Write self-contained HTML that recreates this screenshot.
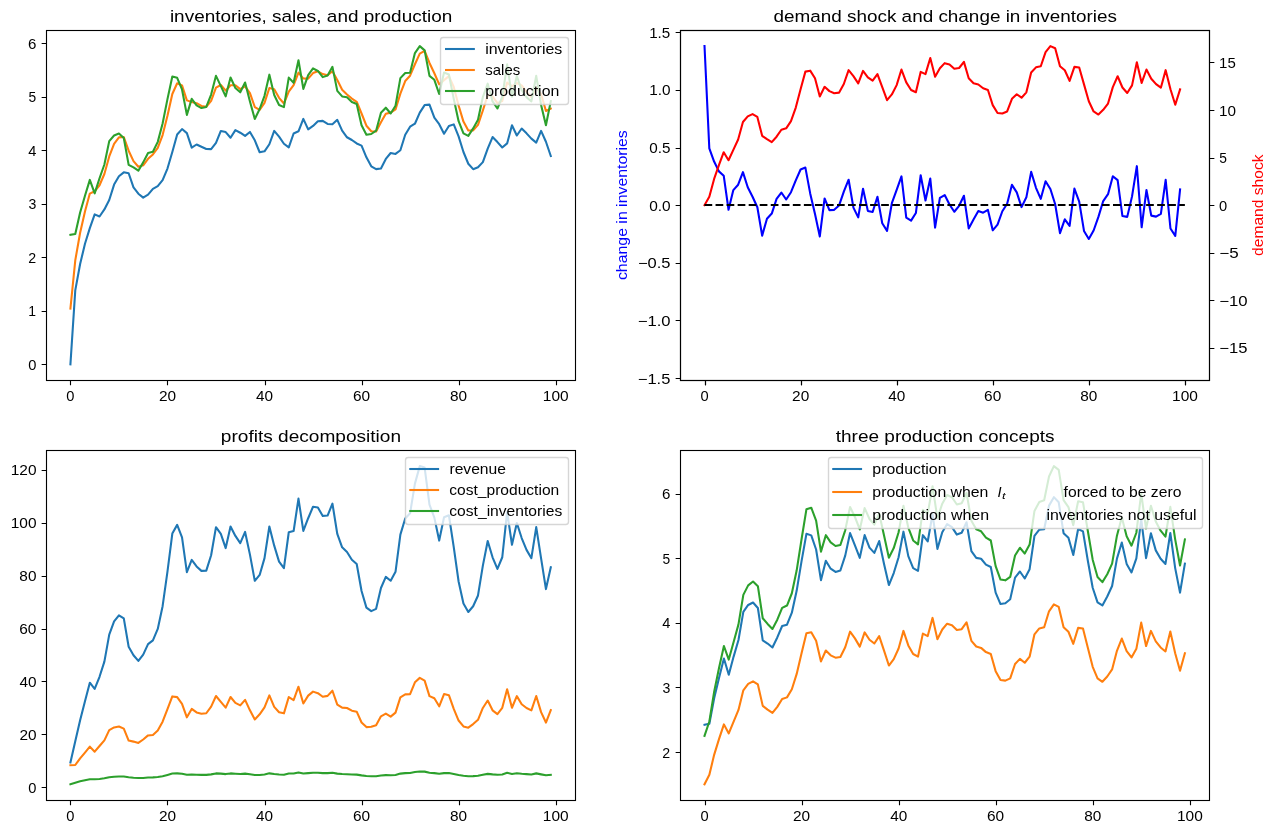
<!DOCTYPE html>
<html><head><meta charset="utf-8"><title>Production smoothing via inventories</title>
<style>html,body{margin:0;padding:0;background:#fff;}svg{display:block;will-change:transform;}text{font-family:"Liberation Sans",sans-serif;}.t{will-change:transform;}</style>
</head><body>
<svg width="1277" height="834" viewBox="0 0 1277 834">
<defs><clipPath id="c0"><rect x="46.4" y="30.2" width="528.41" height="350"/></clipPath><clipPath id="c1"><rect x="680.49" y="30.2" width="528.41" height="350"/></clipPath><clipPath id="c2"><rect x="46.4" y="450.2" width="528.41" height="350"/></clipPath><clipPath id="c3"><rect x="680.49" y="450.2" width="528.41" height="350"/></clipPath></defs>
<rect width="1277" height="834" fill="#fff"/>
<path d="M70.42 364.29 L75.27 290.43 L80.12 264.03 L84.98 243.78 L89.83 228.07 L94.68 214.37 L99.53 216.47 L104.38 209.45 L109.24 199.94 L114.09 184.58 L118.94 176.27 L123.79 172.33 L128.65 173.27 L133.5 187.4 L138.35 193.7 L143.2 197.58 L148.05 194.67 L152.91 188.79 L157.76 186.13 L162.61 180.11 L167.46 168.57 L172.32 152 L177.17 134.54 L182.02 129.07 L186.87 133.15 L191.72 147.64 L196.58 144.5 L201.43 146.77 L206.28 148.93 L211.13 149.1 L215.99 142.81 L220.84 130.98 L225.69 132.09 L230.54 137.76 L235.39 130.09 L240.25 132.73 L245.1 135.89 L249.95 131.95 L254.8 140.35 L259.66 152.26 L264.51 151.34 L269.36 144.25 L274.21 130.89 L279.06 136.64 L283.92 143.79 L288.77 147.42 L293.62 133.49 L298.47 131.29 L303.33 118.91 L308.18 129.32 L313.03 125.9 L317.88 121.2 L322.74 120.89 L327.59 123.94 L332.44 124.22 L337.29 119.83 L342.14 130.62 L347 137.27 L351.85 139.99 L356.7 143.45 L361.55 145.65 L366.41 157.33 L371.26 166.31 L376.11 169.12 L380.96 168.42 L385.81 158.96 L390.67 153.03 L395.52 153.92 L400.37 150.25 L405.22 134.76 L410.08 126.69 L414.93 123.71 L419.78 112.59 L424.63 105.08 L429.48 104.64 L434.34 117.62 L439.19 124.16 L444.04 133.76 L448.89 126.07 L453.75 124.38 L458.6 136.33 L463.45 152 L468.3 163.74 L473.15 169.18 L478.01 167.25 L482.86 162.13 L487.71 148.67 L492.56 137.04 L497.42 142.09 L502.27 147.51 L507.12 143.42 L511.97 125.29 L516.82 135.53 L521.68 128.5 L526.53 133.34 L531.38 138.64 L536.23 142.66 L541.09 130.9 L545.94 141.73 L550.79 155.99" fill="none" stroke="#1f77b4" stroke-width="2.08" stroke-linejoin="round" stroke-linecap="square" clip-path="url(#c0)"/>
<path d="M70.42 308.68 L75.27 260.31 L80.12 232.79 L84.98 211.51 L89.83 193.57 L94.68 191.22 L99.53 185.25 L104.38 174.02 L109.24 156.48 L114.09 143.76 L118.94 137.39 L123.79 137.03 L128.65 150.69 L133.5 161.13 L138.35 166.8 L143.2 165.28 L148.05 158.79 L152.91 154.42 L157.76 147.88 L162.61 135.05 L167.46 115.72 L172.32 93.96 L177.17 83.25 L182.02 85.37 L186.87 100.38 L191.72 102 L196.58 103.15 L201.43 105.91 L206.28 106.76 L211.13 100.86 L215.99 87.68 L220.84 84.99 L225.69 90.7 L230.54 85.24 L235.39 85.3 L240.25 89.13 L245.1 86.4 L249.95 93.1 L254.8 107.03 L259.66 109.93 L264.51 102.94 L269.36 88.05 L274.21 89.26 L279.06 97.84 L283.92 103.54 L288.77 91.52 L293.62 85.02 L298.47 72.62 L303.33 78.54 L308.18 78.6 L313.03 73.07 L317.88 71.29 L322.74 74.08 L327.59 75.31 L332.44 71.25 L337.29 80.06 L342.14 89.76 L347 94.44 L351.85 98.58 L356.7 101.76 L361.55 113.51 L366.41 125.7 L371.26 131.2 L376.11 131.43 L380.96 122.26 L385.81 113.65 L390.67 112.61 L395.52 109.43 L400.37 93.61 L405.22 81.07 L410.08 75.7 L414.93 64.23 L419.78 53.61 L424.63 50.81 L429.48 62.94 L434.34 73.25 L439.19 84.4 L444.04 80.16 L448.89 76.13 L453.75 86.9 L458.6 105.5 L463.45 121.58 L468.3 130.44 L473.15 130.34 L478.01 124.88 L482.86 110.53 L487.71 95.27 L492.56 96.36 L497.42 103.09 L502.27 100.93 L507.12 82.49 L511.97 86.43 L516.82 83.03 L521.68 85.38 L526.53 91.92 L531.38 97.41 L536.23 87.56 L541.09 94.08 L545.94 111 L550.79 108.54" fill="none" stroke="#ff7f0e" stroke-width="2.08" stroke-linejoin="round" stroke-linecap="square" clip-path="url(#c0)"/>
<path d="M70.42 234.82 L75.27 233.91 L80.12 212.54 L84.98 195.8 L89.83 179.87 L94.68 193.33 L99.53 178.23 L104.38 164.51 L109.24 141.13 L114.09 135.45 L118.94 133.45 L123.79 137.98 L128.65 164.82 L133.5 167.43 L138.35 170.68 L143.2 162.37 L148.05 152.91 L152.91 151.76 L157.76 141.86 L162.61 123.51 L167.46 99.15 L172.32 76.5 L177.17 77.78 L182.02 89.45 L186.87 114.87 L191.72 98.85 L196.58 105.43 L201.43 108.07 L206.28 106.93 L211.13 94.56 L215.99 75.85 L220.84 86.1 L225.69 96.36 L230.54 77.56 L235.39 87.94 L240.25 92.29 L245.1 82.46 L249.95 101.5 L254.8 118.94 L259.66 109 L264.51 95.85 L269.36 74.68 L274.21 95.01 L279.06 104.99 L283.92 107.16 L288.77 77.6 L293.62 82.82 L298.47 60.23 L303.33 88.95 L308.18 75.18 L313.03 68.37 L317.88 70.98 L322.74 77.13 L327.59 75.58 L332.44 66.86 L337.29 90.85 L342.14 96.41 L347 97.17 L351.85 102.04 L356.7 103.96 L361.55 125.19 L366.41 134.68 L371.26 134 L376.11 130.73 L380.96 112.8 L385.81 107.72 L390.67 113.5 L395.52 105.77 L400.37 78.12 L405.22 73 L410.08 72.73 L414.93 53.11 L419.78 46.11 L424.63 50.36 L429.48 75.92 L434.34 79.79 L439.19 93.99 L444.04 72.47 L448.89 74.45 L453.75 98.84 L458.6 121.17 L463.45 133.32 L468.3 135.88 L473.15 128.42 L478.01 119.76 L482.86 97.07 L487.71 83.65 L492.56 101.4 L497.42 108.51 L502.27 96.84 L507.12 64.37 L511.97 96.67 L516.82 76 L521.68 90.22 L526.53 97.22 L531.38 101.43 L536.23 75.81 L541.09 104.91 L545.94 125.25 L550.79 101.17" fill="none" stroke="#2ca02c" stroke-width="2.08" stroke-linejoin="round" stroke-linecap="square" clip-path="url(#c0)"/>
<rect x="46.5" y="30.5" width="529.0" height="350.0" fill="none" stroke="#000" stroke-width="1.11" stroke-linejoin="miter"/>
<path d="M70.5 380.5v4.86 M167.5 380.5v4.86 M265.5 380.5v4.86 M362.5 380.5v4.86 M459.5 380.5v4.86 M556.5 380.5v4.86 M46.5 364.5h-4.86 M46.5 311.5h-4.86 M46.5 257.5h-4.86 M46.5 204.5h-4.86 M46.5 150.5h-4.86 M46.5 97.5h-4.86 M46.5 43.5h-4.86" stroke="#000" stroke-width="1.11" fill="none"/>
<rect x="440.5" y="37.5" width="128" height="67" rx="2.78" fill="#fff" fill-opacity="0.8" stroke="#ccc" stroke-opacity="0.8" stroke-width="1.39"/>
<path d="M446.05 49H473.82" stroke="#1f77b4" stroke-width="2.08" stroke-linecap="square"/>
<path d="M446.05 70H473.82" stroke="#ff7f0e" stroke-width="2.08" stroke-linecap="square"/>
<path d="M446.05 91H473.82" stroke="#2ca02c" stroke-width="2.08" stroke-linecap="square"/>
<path d="M704.51 46.11 L709.31 148.34 L714.12 161.58 L718.92 171.36 L723.72 175.68 L728.53 209.74 L733.33 190.08 L738.14 184.7 L742.94 172.13 L747.74 187.3 L752.55 196.7 L757.35 207.23 L762.15 235.63 L766.96 218.77 L771.76 213.56 L776.57 198.93 L781.37 192.53 L786.17 199.48 L790.98 192.23 L795.78 180.34 L800.58 169.51 L805.39 167.59 L810.19 193.42 L815 213.99 L819.8 236.42 L824.6 198.43 L829.41 210.1 L834.21 209.84 L839.01 205.57 L843.82 191.64 L848.62 179.73 L853.42 207.6 L858.23 217.4 L863.03 188.68 L867.84 210.89 L872.64 212.01 L877.44 196.7 L882.25 223.29 L887.05 230.86 L891.85 203.21 L896.66 189.94 L901.46 176.41 L906.27 217.59 L911.07 220.6 L915.87 213.01 L920.68 175.21 L925.48 200.45 L930.28 178.53 L935.09 227.63 L939.89 197.82 L944.7 195.08 L949.5 204.53 L954.3 211.77 L959.11 205.8 L963.91 195.76 L968.71 228.44 L973.52 219.51 L978.32 211.06 L983.13 212.66 L987.93 209.94 L992.73 230.36 L997.54 224.54 L1002.34 211.24 L1007.14 203.7 L1011.95 184.82 L1016.75 192.42 L1021.55 207.11 L1026.36 197.32 L1031.16 171.82 L1035.97 187.82 L1040.77 198.8 L1045.57 181.23 L1050.38 189.04 L1055.18 204.23 L1059.98 233.16 L1064.79 219.3 L1069.59 225.87 L1074.4 188.63 L1079.2 201.57 L1084 230.93 L1088.81 238.95 L1093.61 230.49 L1098.41 216.92 L1103.22 201.05 L1108.02 194.16 L1112.83 176.21 L1117.63 180.16 L1122.43 216.07 L1127.24 216.88 L1132.04 196.38 L1136.84 166.16 L1141.65 227.25 L1146.45 190.06 L1151.26 215.62 L1156.06 216.61 L1160.86 213.87 L1165.67 179.88 L1170.47 228.52 L1175.27 235.91 L1180.08 189.32" fill="none" stroke="#0000ff" stroke-width="2.08" stroke-linejoin="round" stroke-linecap="square" clip-path="url(#c1)"/>
<rect x="680.5" y="30.5" width="529.0" height="350.0" fill="none" stroke="#000" stroke-width="1.11" stroke-linejoin="miter"/>
<path d="M705.5 380.5v4.86 M801.5 380.5v4.86 M897.5 380.5v4.86 M993.5 380.5v4.86 M1089.5 380.5v4.86 M1185.5 380.5v4.86 M680.5 378.5h-4.86 M680.5 320.5h-4.86 M680.5 263.5h-4.86 M680.5 205.5h-4.86 M680.5 148.5h-4.86 M680.5 90.5h-4.86 M680.5 32.5h-4.86" stroke="#000" stroke-width="1.11" fill="none"/>
<path d="M70.42 762.53 L75.27 741.18 L80.12 720.21 L84.98 701.36 L89.83 682.72 L94.68 688.84 L99.53 676.8 L104.38 661.6 L109.24 634.61 L114.09 621.43 L118.94 615.29 L123.79 618.35 L128.65 646.8 L133.5 655.22 L138.35 660.89 L143.2 654.59 L148.05 644.09 L152.91 640.33 L157.76 628.94 L162.61 606.2 L167.46 571.73 L172.32 533.52 L177.17 524.87 L182.02 537.33 L186.87 572.15 L191.72 559.86 L196.58 566.39 L201.43 570.87 L206.28 570.61 L211.13 555.24 L215.99 527.19 L220.84 533.96 L225.69 548.09 L230.54 526.49 L235.39 535.91 L240.25 543.14 L245.1 531.95 L249.95 554.64 L254.8 580.82 L259.66 574.92 L264.51 558.12 L269.36 526.49 L274.21 545.67 L279.06 561.62 L283.92 568.17 L288.77 532.26 L293.62 531.04 L298.47 498.64 L303.33 530.9 L308.18 518.23 L313.03 506.74 L317.88 507.53 L322.74 515.9 L327.59 515.58 L332.44 503.6 L337.29 533.97 L342.14 547.34 L347 551.99 L351.85 559.71 L356.7 563.99 L361.55 590.96 L366.41 607.6 L371.26 611.12 L376.11 608.83 L380.96 587.96 L385.81 576.92 L390.67 580.76 L395.52 571.85 L400.37 534.63 L405.22 518.51 L410.08 513.28 L414.93 483.63 L419.78 466.11 L424.63 467.59 L429.48 504.57 L434.34 517.65 L439.19 540.58 L444.04 517.18 L448.89 515.28 L453.75 547.08 L458.6 581.5 L463.45 603.5 L468.3 611.99 L473.15 606.27 L478.01 595.45 L482.86 565.63 L487.71 540.94 L492.56 557.29 L497.42 568.93 L502.27 557.24 L507.12 511.97 L511.97 544.74 L516.82 523.05 L521.68 538.02 L526.53 549.89 L531.38 558.2 L536.23 527.04 L541.09 558.44 L545.94 589.09 L550.79 567.32" fill="none" stroke="#1f77b4" stroke-width="2.08" stroke-linejoin="round" stroke-linecap="square" clip-path="url(#c2)"/>
<path d="M70.42 765.26 L75.27 765 L80.12 758.37 L84.98 752.59 L89.83 746.61 L94.68 751.7 L99.53 745.97 L104.38 740.4 L109.24 730.11 L114.09 727.46 L118.94 726.51 L123.79 728.64 L128.65 740.53 L133.5 741.62 L138.35 742.95 L143.2 739.5 L148.05 735.42 L152.91 734.92 L157.76 730.45 L162.61 721.69 L167.46 709.1 L172.32 696.41 L177.17 697.15 L182.02 703.78 L186.87 717.35 L191.72 708.94 L196.58 712.45 L201.43 713.83 L206.28 713.24 L211.13 706.6 L215.99 696.03 L220.84 701.9 L225.69 707.59 L230.54 697.02 L235.39 702.94 L240.25 705.35 L245.1 699.84 L249.95 710.36 L254.8 719.41 L259.66 714.32 L264.51 707.31 L269.36 695.35 L274.21 706.85 L279.06 712.22 L283.92 713.36 L288.77 697.04 L293.62 700.04 L298.47 686.71 L303.33 703.5 L308.18 695.64 L313.03 691.62 L317.88 693.17 L322.74 696.77 L327.59 695.87 L332.44 690.72 L337.29 704.56 L342.14 707.61 L347 708.02 L351.85 710.65 L356.7 711.67 L361.55 722.52 L366.41 727.09 L371.26 726.77 L376.11 725.21 L380.96 716.29 L385.81 713.65 L390.67 716.65 L395.52 712.63 L400.37 697.34 L405.22 694.36 L410.08 694.2 L414.93 682.31 L419.78 677.89 L424.63 680.58 L429.48 696.07 L434.34 698.31 L439.19 706.29 L444.04 694.05 L448.89 695.21 L453.75 708.93 L458.6 720.53 L463.45 726.45 L468.3 727.66 L473.15 724.09 L478.01 719.82 L482.86 707.97 L487.71 700.51 L492.56 710.31 L497.42 714.06 L502.27 707.85 L507.12 689.22 L511.97 707.75 L516.82 696.12 L521.68 704.21 L526.53 708.05 L531.38 710.32 L536.23 696 L541.09 712.17 L545.94 722.55 L550.79 710.18" fill="none" stroke="#ff7f0e" stroke-width="2.08" stroke-linejoin="round" stroke-linecap="square" clip-path="url(#c2)"/>
<path d="M70.42 784.29 L75.27 782.66 L80.12 781.29 L84.98 780.23 L89.83 779.32 L94.68 779.24 L99.53 778.94 L104.38 778.34 L109.24 777.28 L114.09 776.73 L118.94 776.46 L123.79 776.51 L128.65 777.24 L133.5 777.77 L138.35 778.05 L143.2 777.95 L148.05 777.58 L152.91 777.38 L157.76 776.99 L162.61 776.17 L167.46 774.9 L172.32 773.55 L177.17 773.36 L182.02 773.76 L186.87 774.73 L191.72 774.52 L196.58 774.71 L201.43 774.86 L206.28 774.86 L211.13 774.36 L215.99 773.4 L220.84 773.66 L225.69 774.09 L230.54 773.41 L235.39 773.72 L240.25 773.95 L245.1 773.6 L249.95 774.27 L254.8 775.06 L259.66 775.01 L264.51 774.46 L269.36 773.36 L274.21 774.01 L279.06 774.51 L283.92 774.75 L288.77 773.54 L293.62 773.57 L298.47 772.45 L303.33 773.52 L308.18 773.16 L313.03 772.79 L317.88 772.83 L322.74 773.1 L327.59 773.09 L332.44 772.69 L337.29 773.61 L342.14 774.06 L347 774.24 L351.85 774.48 L356.7 774.63 L361.55 775.39 L366.41 776 L371.26 776.23 L376.11 776.19 L380.96 775.5 L385.81 775.1 L390.67 775.2 L395.52 774.92 L400.37 773.61 L405.22 773.14 L410.08 773 L414.93 771.99 L419.78 771.5 L424.63 771.62 L429.48 772.71 L434.34 773.14 L439.19 773.82 L444.04 773.1 L448.89 773.07 L453.75 773.99 L458.6 775.01 L463.45 775.8 L468.3 776.21 L473.15 776.11 L478.01 775.75 L482.86 774.7 L487.71 773.86 L492.56 774.39 L497.42 774.76 L502.27 774.43 L507.12 772.8 L511.97 773.94 L516.82 773.3 L521.68 773.78 L526.53 774.15 L531.38 774.43 L536.23 773.39 L541.09 774.36 L545.94 775.28 L550.79 774.77" fill="none" stroke="#2ca02c" stroke-width="2.08" stroke-linejoin="round" stroke-linecap="square" clip-path="url(#c2)"/>
<rect x="46.5" y="450.5" width="529.0" height="350.0" fill="none" stroke="#000" stroke-width="1.11" stroke-linejoin="miter"/>
<path d="M70.5 800.5v4.86 M167.5 800.5v4.86 M265.5 800.5v4.86 M362.5 800.5v4.86 M459.5 800.5v4.86 M556.5 800.5v4.86 M46.5 787.5h-4.86 M46.5 734.5h-4.86 M46.5 681.5h-4.86 M46.5 629.5h-4.86 M46.5 576.5h-4.86 M46.5 523.5h-4.86 M46.5 470.5h-4.86" stroke="#000" stroke-width="1.11" fill="none"/>
<rect x="405.5" y="457.5" width="163" height="67" rx="2.78" fill="#fff" fill-opacity="0.8" stroke="#ccc" stroke-opacity="0.8" stroke-width="1.39"/>
<path d="M410.3 469H438.07" stroke="#1f77b4" stroke-width="2.08" stroke-linecap="square"/>
<path d="M410.3 490H438.07" stroke="#ff7f0e" stroke-width="2.08" stroke-linecap="square"/>
<path d="M410.3 511H438.07" stroke="#2ca02c" stroke-width="2.08" stroke-linecap="square"/>
<path d="M704.51 724.87 L709.36 723.77 L714.21 697.99 L719.07 677.79 L723.92 658.56 L728.77 674.8 L733.62 656.59 L738.48 640.03 L743.33 611.82 L748.18 604.96 L753.03 602.55 L757.88 608.02 L762.74 640.41 L767.59 643.56 L772.44 647.48 L777.29 637.45 L782.15 626.03 L787 624.65 L791.85 612.7 L796.7 590.56 L801.55 561.17 L806.41 533.83 L811.26 535.38 L816.11 549.47 L820.96 580.14 L825.82 560.81 L830.67 568.74 L835.52 571.93 L840.37 570.55 L845.22 555.63 L850.08 533.05 L854.93 545.42 L859.78 557.8 L864.63 535.12 L869.49 547.65 L874.34 552.89 L879.19 541.02 L884.04 564 L888.89 585.05 L893.75 573.06 L898.6 557.19 L903.45 531.65 L908.3 556.17 L913.16 568.21 L918.01 570.84 L922.86 535.16 L927.71 541.46 L932.56 514.21 L937.42 548.86 L942.27 532.24 L947.12 524.03 L951.97 527.17 L956.83 534.59 L961.68 532.73 L966.53 522.21 L971.38 551.15 L976.24 557.86 L981.09 558.77 L985.94 564.66 L990.79 566.97 L995.64 592.59 L1000.5 604.04 L1005.35 603.22 L1010.2 599.27 L1015.05 577.64 L1019.91 571.51 L1024.76 578.48 L1029.61 569.16 L1034.46 535.79 L1039.31 529.61 L1044.17 529.28 L1049.02 505.61 L1053.87 497.16 L1058.72 502.3 L1063.58 533.14 L1068.43 537.81 L1073.28 554.94 L1078.13 528.98 L1082.98 531.36 L1087.84 560.79 L1092.69 587.74 L1097.54 602.39 L1102.39 605.49 L1107.25 596.48 L1112.1 586.03 L1116.95 558.66 L1121.8 542.46 L1126.65 563.89 L1131.51 572.46 L1136.36 558.38 L1141.21 519.2 L1146.06 558.17 L1150.92 533.24 L1155.77 550.39 L1160.62 558.83 L1165.47 563.92 L1170.32 533 L1175.18 568.11 L1180.03 592.66 L1184.88 563.61" fill="none" stroke="#1f77b4" stroke-width="2.08" stroke-linejoin="round" stroke-linecap="square" clip-path="url(#c3)"/>
<path d="M704.51 784.29 L709.36 774.72 L714.21 754.6 L719.07 738.9 L723.92 724.38 L728.77 733.41 L733.62 721.69 L738.48 709.96 L743.33 690.28 L748.18 683.93 L753.03 681.35 L757.88 684.47 L762.74 705.87 L767.59 709.64 L772.44 712.97 L777.29 706.84 L782.15 698.99 L787 697.38 L791.85 689.2 L796.7 673.93 L801.55 653.22 L806.41 633.27 L811.26 632.19 L816.11 640.8 L820.96 661.45 L825.82 650.48 L830.67 655.32 L835.52 657.69 L840.37 657.04 L845.22 647.25 L850.08 631.65 L854.93 638.37 L859.78 646.64 L864.63 632.41 L869.49 639.72 L874.34 643.49 L879.19 636.06 L884.04 650.69 L888.89 665.54 L893.75 659.08 L898.6 648.54 L903.45 630.9 L908.3 645.42 L913.16 654.03 L918.01 656.61 L922.86 633.59 L927.71 636.06 L932.56 617.89 L937.42 639.18 L942.27 629.5 L947.12 623.69 L951.97 625.2 L956.83 630.04 L961.68 629.18 L966.53 622.3 L971.38 640.8 L976.24 646.5 L981.09 647.9 L985.94 652.09 L990.79 654.03 L995.64 671.13 L1000.5 680.06 L1005.35 680.6 L1010.2 678.34 L1015.05 664.03 L1019.91 658.87 L1024.76 662.74 L1029.61 656.72 L1034.46 634.34 L1039.31 628.43 L1044.17 627.24 L1049.02 611.32 L1053.87 604.44 L1058.72 606.91 L1063.58 627.14 L1068.43 631.76 L1073.28 643.81 L1078.13 627.89 L1082.98 628.53 L1087.84 647.68 L1092.69 666.83 L1097.54 678.34 L1102.39 681.78 L1107.25 676.51 L1112.1 669.41 L1116.95 650.8 L1121.8 638.54 L1126.65 651.23 L1131.51 657.47 L1136.36 648.86 L1141.21 622.62 L1146.06 646.07 L1150.92 630.9 L1155.77 641.33 L1160.62 647.47 L1165.47 651.45 L1170.32 631.6 L1175.18 653.27 L1180.03 670.71 L1184.88 653.32" fill="none" stroke="#ff7f0e" stroke-width="2.08" stroke-linejoin="round" stroke-linecap="square" clip-path="url(#c3)"/>
<path d="M704.51 735.89 L709.36 721.53 L714.21 691.35 L719.07 667.8 L723.92 646.01 L728.77 659.57 L733.62 641.98 L738.48 624.39 L743.33 594.87 L748.18 585.35 L753.03 581.47 L757.88 586.15 L762.74 618.26 L767.59 623.91 L772.44 628.91 L777.29 619.71 L782.15 607.94 L787 605.52 L791.85 593.25 L796.7 570.34 L801.55 539.28 L806.41 509.35 L811.26 507.74 L816.11 520.65 L820.96 551.62 L825.82 535.17 L830.67 542.43 L835.52 545.98 L840.37 545.01 L845.22 530.33 L850.08 506.93 L854.93 517 L859.78 529.41 L864.63 508.06 L869.49 519.03 L874.34 524.68 L879.19 513.55 L884.04 535.49 L888.89 557.76 L893.75 548.07 L898.6 532.26 L903.45 505.8 L908.3 527.58 L913.16 540.49 L918.01 544.36 L922.86 509.83 L927.71 513.55 L932.56 486.28 L937.42 518.23 L942.27 503.7 L947.12 494.99 L951.97 497.25 L956.83 504.51 L961.68 503.22 L966.53 492.89 L971.38 520.65 L976.24 529.2 L981.09 531.29 L985.94 537.59 L990.79 540.49 L995.64 566.15 L1000.5 579.54 L1005.35 580.34 L1010.2 576.96 L1015.05 555.5 L1019.91 547.75 L1024.76 553.56 L1029.61 544.53 L1034.46 510.96 L1039.31 502.09 L1044.17 500.32 L1049.02 476.44 L1053.87 466.11 L1058.72 469.82 L1063.58 500.15 L1068.43 507.09 L1073.28 525.16 L1078.13 501.28 L1082.98 502.25 L1087.84 530.97 L1092.69 559.69 L1097.54 576.96 L1102.39 582.12 L1107.25 574.21 L1112.1 563.56 L1116.95 535.65 L1121.8 517.26 L1126.65 536.3 L1131.51 545.65 L1136.36 532.75 L1141.21 493.38 L1146.06 528.55 L1150.92 505.8 L1155.77 521.45 L1160.62 530.65 L1165.47 536.62 L1170.32 506.85 L1175.18 539.36 L1180.03 565.52 L1184.88 539.43" fill="none" stroke="#2ca02c" stroke-width="2.08" stroke-linejoin="round" stroke-linecap="square" clip-path="url(#c3)"/>
<rect x="680.5" y="450.5" width="529.0" height="350.0" fill="none" stroke="#000" stroke-width="1.11" stroke-linejoin="miter"/>
<path d="M705.5 800.5v4.86 M802.5 800.5v4.86 M899.5 800.5v4.86 M996.5 800.5v4.86 M1093.5 800.5v4.86 M1190.5 800.5v4.86 M680.5 752.5h-4.86 M680.5 687.5h-4.86 M680.5 623.5h-4.86 M680.5 558.5h-4.86 M680.5 494.5h-4.86" stroke="#000" stroke-width="1.11" fill="none"/>
<rect x="828.5" y="457.5" width="374" height="71" rx="2.78" fill="#fff" fill-opacity="0.8" stroke="#ccc" stroke-opacity="0.8" stroke-width="1.39"/>
<path d="M833.26 469H861.04" stroke="#1f77b4" stroke-width="2.08" stroke-linecap="square"/>
<path d="M833.26 492H861.04" stroke="#ff7f0e" stroke-width="2.08" stroke-linecap="square"/>
<path d="M833.26 515H861.04" stroke="#2ca02c" stroke-width="2.08" stroke-linecap="square"/>
<path d="M704.51 205.2 L709.31 196.73 L714.12 178.94 L718.92 165.05 L723.72 152.2 L728.53 160.19 L733.33 149.82 L738.14 139.45 L742.94 122.04 L747.74 116.42 L752.55 114.14 L757.35 116.9 L762.15 135.84 L766.96 139.17 L771.76 142.12 L776.57 136.69 L781.37 129.75 L786.17 128.32 L790.98 121.09 L795.78 107.58 L800.58 89.26 L805.39 71.61 L810.19 70.66 L815 78.27 L819.8 96.54 L824.6 86.83 L829.41 91.12 L834.21 93.21 L839.01 92.64 L843.82 83.98 L848.62 70.18 L853.42 76.12 L858.23 83.44 L863.03 70.85 L867.84 77.32 L872.64 80.65 L877.44 74.08 L882.25 87.02 L887.05 100.15 L891.85 94.45 L896.66 85.12 L901.46 69.52 L906.27 82.36 L911.07 89.97 L915.87 92.26 L920.68 71.89 L925.48 74.08 L930.28 58 L935.09 76.84 L939.89 68.28 L944.7 63.14 L949.5 64.47 L954.3 68.75 L959.11 67.99 L963.91 61.9 L968.71 78.27 L973.52 83.31 L978.32 84.55 L983.13 88.26 L987.93 89.97 L992.73 105.1 L997.54 113 L1002.34 113.48 L1007.14 111.48 L1011.95 98.82 L1016.75 94.26 L1021.55 97.68 L1026.36 92.35 L1031.16 72.56 L1035.97 67.33 L1040.77 66.28 L1045.57 52.2 L1050.38 46.11 L1055.18 48.3 L1059.98 66.19 L1064.79 70.28 L1069.59 80.93 L1074.4 66.85 L1079.2 67.42 L1084 84.36 L1088.81 101.3 L1093.61 111.48 L1098.41 114.52 L1103.22 109.86 L1108.02 103.58 L1112.83 87.12 L1117.63 76.27 L1122.43 87.5 L1127.24 93.02 L1132.04 85.41 L1136.84 62.19 L1141.65 82.93 L1146.45 69.52 L1151.26 78.75 L1156.06 84.17 L1160.86 87.69 L1165.67 70.13 L1170.47 89.31 L1175.27 104.73 L1180.08 89.35" fill="none" stroke="#ff0000" stroke-width="2.08" stroke-linejoin="round" stroke-linecap="square" clip-path="url(#c1)"/>
<path d="M704.51 205 L1184.88 205" stroke="#000000" stroke-width="2.08" stroke-dasharray="7.71 3.33" fill="none" clip-path="url(#c1)"/>
<rect x="680.5" y="30.5" width="529.0" height="350.0" fill="none" stroke="#000" stroke-width="1.11" stroke-linejoin="miter"/>
<path d="M705.5 380.5v4.86 M801.5 380.5v4.86 M897.5 380.5v4.86 M993.5 380.5v4.86 M1089.5 380.5v4.86 M1185.5 380.5v4.86 M1209.5 348.5h4.86 M1209.5 300.5h4.86 M1209.5 253.5h4.86 M1209.5 205.5h4.86 M1209.5 158.5h4.86 M1209.5 110.5h4.86 M1209.5 62.5h4.86" stroke="#000" stroke-width="1.11" fill="none"/>
<text transform="translate(66.04,400.92) translate(0.9,0) scale(1.0492,1)" x="-0.56" font-size="14.0" fill="#000" xml:space="preserve">0</text>
<text transform="translate(158.71,400.92) translate(1.01,0) scale(1.1012,1)" x="-0.7" font-size="14.0" fill="#000" xml:space="preserve">20</text>
<text transform="translate(255.76,400.92) translate(0.66,0) scale(1.0960,1)" x="-0.32" font-size="14.0" fill="#000" xml:space="preserve">40</text>
<text transform="translate(352.74,400.92) translate(0.97,0) scale(1.1036,1)" x="-0.7" font-size="14.0" fill="#000" xml:space="preserve">60</text>
<text transform="translate(449.79,400.92) translate(0.94,0) scale(1.0980,1)" x="-0.6" font-size="14.0" fill="#000" xml:space="preserve">80</text>
<text transform="translate(542.46,400.92) translate(1.53,0) scale(1.1053,1)" x="-1.05" font-size="14.0" fill="#000" xml:space="preserve">100</text>
<text transform="translate(27.93,369.79) translate(0.9,0) scale(1.0492,1)" x="-0.56" font-size="14.0" fill="#000" xml:space="preserve">0</text>
<text transform="translate(27.8,316.3) translate(1.53,0) scale(0.9978,1)" x="-1.05" font-size="14.0" fill="#000" xml:space="preserve">1</text>
<text transform="translate(27.93,262.82) translate(1.01,0) scale(1.0139,1)" x="-0.7" font-size="14.0" fill="#000" xml:space="preserve">2</text>
<text transform="translate(27.93,209.33) translate(1.04,0) scale(1.0077,1)" x="-0.53" font-size="14.0" fill="#000" xml:space="preserve">3</text>
<text transform="translate(27.93,155.84) translate(0.66,0) scale(1.0461,1)" x="-0.32" font-size="14.0" fill="#000" xml:space="preserve">4</text>
<text transform="translate(27.93,102.36) translate(1.08,0) scale(0.9868,1)" x="-0.56" font-size="14.0" fill="#000" xml:space="preserve">5</text>
<text transform="translate(27.8,48.87) translate(0.97,0) scale(1.0779,1)" x="-0.7" font-size="14.0" fill="#000" xml:space="preserve">6</text>
<text transform="translate(169.6,21.87) translate(1.58,0) scale(1.1148,1)" x="-1.15" font-size="17.0" fill="#000" xml:space="preserve">inventories, sales, and production</text>
<text transform="translate(484.93,53.7) translate(1.32,0) scale(1.1399,1)" x="-0.95" font-size="14.0" fill="#000" xml:space="preserve">inventories</text>
<text transform="translate(484.93,74.64) translate(0.76,0) scale(1.0674,1)" x="-0.39" font-size="14.0" fill="#000" xml:space="preserve">sales</text>
<text transform="translate(484.93,95.59) translate(1.25,0) scale(1.1346,1)" x="-0.91" font-size="14.0" fill="#000" xml:space="preserve">production</text>
<text transform="translate(700.13,400.92) translate(0.9,0) scale(1.0492,1)" x="-0.56" font-size="14.0" fill="#000" xml:space="preserve">0</text>
<text transform="translate(791.83,400.92) translate(1.01,0) scale(1.1012,1)" x="-0.7" font-size="14.0" fill="#000" xml:space="preserve">20</text>
<text transform="translate(887.91,400.92) translate(0.66,0) scale(1.0960,1)" x="-0.32" font-size="14.0" fill="#000" xml:space="preserve">40</text>
<text transform="translate(983.92,400.92) translate(0.97,0) scale(1.1036,1)" x="-0.7" font-size="14.0" fill="#000" xml:space="preserve">60</text>
<text transform="translate(1079.99,400.92) translate(0.94,0) scale(1.0980,1)" x="-0.6" font-size="14.0" fill="#000" xml:space="preserve">80</text>
<text transform="translate(1171.69,400.92) translate(1.53,0) scale(1.1053,1)" x="-1.05" font-size="14.0" fill="#000" xml:space="preserve">100</text>
<text transform="translate(637.14,383.51) translate(1.46,0) scale(1.1791,1)" x="-0.7" font-size="14.0" fill="#000" xml:space="preserve">−1.5</text>
<text transform="translate(637.14,325.91) translate(1.46,0) scale(1.1881,1)" x="-0.7" font-size="14.0" fill="#000" xml:space="preserve">−1.0</text>
<text transform="translate(637.27,268.3) translate(1.46,0) scale(1.1791,1)" x="-0.7" font-size="14.0" fill="#000" xml:space="preserve">−0.5</text>
<text transform="translate(648.89,210.7) translate(0.9,0) scale(1.1036,1)" x="-0.56" font-size="14.0" fill="#000" xml:space="preserve">0.0</text>
<text transform="translate(648.89,153.1) translate(0.9,0) scale(1.0905,1)" x="-0.56" font-size="14.0" fill="#000" xml:space="preserve">0.5</text>
<text transform="translate(648.77,95.49) translate(1.53,0) scale(1.0988,1)" x="-1.05" font-size="14.0" fill="#000" xml:space="preserve">1.0</text>
<text transform="translate(648.77,37.89) translate(1.53,0) scale(1.0854,1)" x="-1.05" font-size="14.0" fill="#000" xml:space="preserve">1.5</text>
<text transform="translate(626.59,280.14) rotate(-90) translate(0.76,0) scale(1.1331,1)" x="-0.6" font-size="14.0" fill="#0000ff" xml:space="preserve">change in inventories</text>
<text transform="translate(773.32,21.87) translate(0.92,0) scale(1.1125,1)" x="-0.72" font-size="17.0" fill="#000" xml:space="preserve">demand shock and change in inventories</text>
<text transform="translate(66.04,820.92) translate(0.9,0) scale(1.0492,1)" x="-0.56" font-size="14.0" fill="#000" xml:space="preserve">0</text>
<text transform="translate(158.71,820.92) translate(1.01,0) scale(1.1012,1)" x="-0.7" font-size="14.0" fill="#000" xml:space="preserve">20</text>
<text transform="translate(255.76,820.92) translate(0.66,0) scale(1.0960,1)" x="-0.32" font-size="14.0" fill="#000" xml:space="preserve">40</text>
<text transform="translate(352.74,820.92) translate(0.97,0) scale(1.1036,1)" x="-0.7" font-size="14.0" fill="#000" xml:space="preserve">60</text>
<text transform="translate(449.79,820.92) translate(0.94,0) scale(1.0980,1)" x="-0.6" font-size="14.0" fill="#000" xml:space="preserve">80</text>
<text transform="translate(542.46,820.92) translate(1.53,0) scale(1.1053,1)" x="-1.05" font-size="14.0" fill="#000" xml:space="preserve">100</text>
<text transform="translate(27.93,792.65) translate(0.9,0) scale(1.0492,1)" x="-0.56" font-size="14.0" fill="#000" xml:space="preserve">0</text>
<text transform="translate(19.18,739.79) translate(1.01,0) scale(1.1012,1)" x="-0.7" font-size="14.0" fill="#000" xml:space="preserve">20</text>
<text transform="translate(19.18,686.93) translate(0.66,0) scale(1.0960,1)" x="-0.32" font-size="14.0" fill="#000" xml:space="preserve">40</text>
<text transform="translate(19.05,634.06) translate(0.97,0) scale(1.1036,1)" x="-0.7" font-size="14.0" fill="#000" xml:space="preserve">60</text>
<text transform="translate(19.05,581.2) translate(0.94,0) scale(1.0980,1)" x="-0.6" font-size="14.0" fill="#000" xml:space="preserve">80</text>
<text transform="translate(10.3,528.34) translate(1.53,0) scale(1.1053,1)" x="-1.05" font-size="14.0" fill="#000" xml:space="preserve">100</text>
<text transform="translate(10.3,475.48) translate(1.53,0) scale(1.1053,1)" x="-1.05" font-size="14.0" fill="#000" xml:space="preserve">120</text>
<text transform="translate(220.54,441.87) translate(1.5,0) scale(1.1224,1)" x="-1.1" font-size="17.0" fill="#000" xml:space="preserve">profits decomposition</text>
<text transform="translate(449.18,473.7) translate(1.25,0) scale(1.1187,1)" x="-0.91" font-size="14.0" fill="#000" xml:space="preserve">revenue</text>
<text transform="translate(449.18,494.64) translate(0.76,0) scale(1.1133,1)" x="-0.6" font-size="14.0" fill="#000" xml:space="preserve">cost_production</text>
<text transform="translate(449.18,515.73) translate(0.76,0) scale(1.1173,1)" x="-0.6" font-size="14.0" fill="#000" xml:space="preserve">cost_inventories</text>
<text transform="translate(700.13,820.92) translate(0.9,0) scale(1.0492,1)" x="-0.56" font-size="14.0" fill="#000" xml:space="preserve">0</text>
<text transform="translate(792.8,820.92) translate(1.01,0) scale(1.1012,1)" x="-0.7" font-size="14.0" fill="#000" xml:space="preserve">20</text>
<text transform="translate(889.85,820.92) translate(0.66,0) scale(1.0960,1)" x="-0.32" font-size="14.0" fill="#000" xml:space="preserve">40</text>
<text transform="translate(986.83,820.92) translate(0.97,0) scale(1.1036,1)" x="-0.7" font-size="14.0" fill="#000" xml:space="preserve">60</text>
<text transform="translate(1083.88,820.92) translate(0.94,0) scale(1.0980,1)" x="-0.6" font-size="14.0" fill="#000" xml:space="preserve">80</text>
<text transform="translate(1176.55,820.92) translate(1.53,0) scale(1.1053,1)" x="-1.05" font-size="14.0" fill="#000" xml:space="preserve">100</text>
<text transform="translate(662.02,757.52) translate(1.01,0) scale(1.0139,1)" x="-0.7" font-size="14.0" fill="#000" xml:space="preserve">2</text>
<text transform="translate(662.02,692.98) translate(1.04,0) scale(1.0077,1)" x="-0.53" font-size="14.0" fill="#000" xml:space="preserve">3</text>
<text transform="translate(662.02,628.44) translate(0.66,0) scale(1.0461,1)" x="-0.32" font-size="14.0" fill="#000" xml:space="preserve">4</text>
<text transform="translate(662.02,563.9) translate(1.08,0) scale(0.9868,1)" x="-0.56" font-size="14.0" fill="#000" xml:space="preserve">5</text>
<text transform="translate(661.89,499.36) translate(0.97,0) scale(1.0779,1)" x="-0.7" font-size="14.0" fill="#000" xml:space="preserve">6</text>
<text transform="translate(835.51,441.87) translate(0.46,0) scale(1.1194,1)" x="-0.26" font-size="17.0" fill="#000" xml:space="preserve">three production concepts</text>
<text transform="translate(872.15,473.7) translate(1.25,0) scale(1.1346,1)" x="-0.91" font-size="14.0" fill="#000" xml:space="preserve">production</text>
<text transform="translate(872.15,496.64) translate(1.25,0) scale(1.1303,1)" x="-0.91" font-size="14.0" fill="#000" xml:space="preserve">production when</text>
<text transform="translate(1063.47,496.64) translate(0.31,0) scale(1.1223,1)" x="-0.21" font-size="14.0" fill="#000" xml:space="preserve">forced to be zero</text>
<text transform="translate(997.79,496.64) translate(0.38,0) scale(1.0466,1)" x="-0.56" font-size="14.0" fill="#000" font-style="italic" xml:space="preserve">I</text>
<text transform="translate(1001.88,498.92) translate(0.63,0) scale(1.3258,1)" x="-0.44" font-size="9.799999999999999" fill="#000" font-style="italic" xml:space="preserve">t</text>
<text transform="translate(872.15,519.59) translate(1.25,0) scale(1.1368,1)" x="-0.91" font-size="14.0" fill="#000" xml:space="preserve">production when             inventories not useful</text>
<text transform="translate(1218.62,353.43) translate(1.46,0) scale(1.1868,1)" x="-0.7" font-size="14.0" fill="#000" xml:space="preserve">−15</text>
<text transform="translate(1218.62,305.85) translate(1.46,0) scale(1.1973,1)" x="-0.7" font-size="14.0" fill="#000" xml:space="preserve">−10</text>
<text transform="translate(1218.62,258.28) translate(1.46,0) scale(1.2117,1)" x="-0.7" font-size="14.0" fill="#000" xml:space="preserve">−5</text>
<text transform="translate(1218.62,210.7) translate(0.9,0) scale(1.0492,1)" x="-0.56" font-size="14.0" fill="#000" xml:space="preserve">0</text>
<text transform="translate(1218.62,163.12) translate(1.08,0) scale(0.9868,1)" x="-0.56" font-size="14.0" fill="#000" xml:space="preserve">5</text>
<text transform="translate(1218.62,115.55) translate(1.53,0) scale(1.0915,1)" x="-1.05" font-size="14.0" fill="#000" xml:space="preserve">10</text>
<text transform="translate(1218.62,67.97) translate(1.53,0) scale(1.0743,1)" x="-1.05" font-size="14.0" fill="#000" xml:space="preserve">15</text>
<text transform="translate(1263.43,256.01) rotate(-90) translate(0.76,0) scale(1.1145,1)" x="-0.6" font-size="14.0" fill="#ff0000" xml:space="preserve">demand shock</text>
</svg>
</body></html>
